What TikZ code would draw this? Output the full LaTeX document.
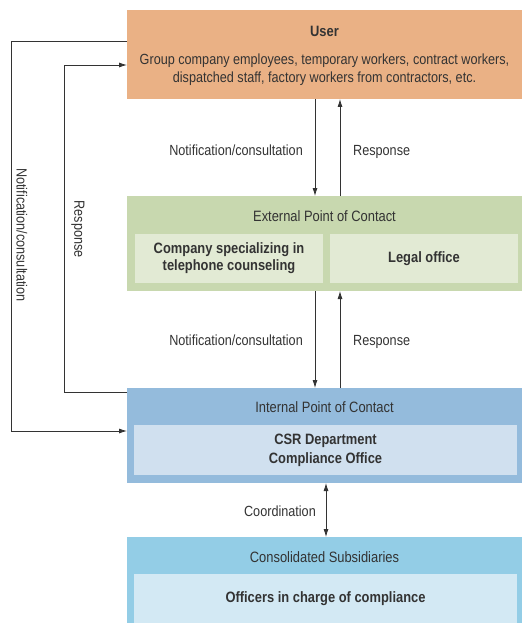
\documentclass[tikz,border=0pt]{standalone}
\usepackage{fontspec}
\setmainfont{Liberation Sans}[FakeStretch=0.86]
\usetikzlibrary{arrows.meta}
\definecolor{ink}{HTML}{333333}
\definecolor{userfill}{HTML}{EAB185}
\definecolor{extfill}{HTML}{C8D8AF}
\definecolor{extinner}{HTML}{E2EAD4}
\definecolor{intfill}{HTML}{94BBDC}
\definecolor{intinner}{HTML}{D0E0EF}
\definecolor{subfill}{HTML}{93CDE6}
\definecolor{subinner}{HTML}{D3E9F4}
\tikzset{
  outerbox/.style={anchor=north west,minimum width=395pt,inner sep=0pt,outer sep=0pt},
  innerbox/.style={anchor=north west,inner sep=0pt,outer sep=0pt,text=ink,
    font=\fontsize{15}{17}\selectfont\bfseries,align=center},
  title/.style={text=ink,font=\fontsize{15}{18}\selectfont,inner sep=0pt},
  lab/.style={text=ink,font=\fontsize{14.7}{17}\selectfont,inner sep=0pt},
  arr/.style={draw=ink,line width=0.8pt,-{Latex[length=8pt,width=5pt]}},
}
\begin{document}
\begin{tikzpicture}[x=1pt,y=1pt]
\useasboundingbox (0,0) rectangle (522,-623);
% boxes
\node[outerbox,fill=userfill,minimum height=89pt] (user) at (127,-10) {};
\node[title,font=\fontsize{15}{18}\selectfont\bfseries] (usertitle) at (324.5,-31) {User};
\node[title,align=center,font=\fontsize{14.7}{18.5}\selectfont] (usertext) at (324.5,-69.5)
  {Group company employees, temporary workers, contract workers,\\dispatched staff, factory workers from contractors, etc.};

\node[outerbox,fill=extfill,minimum height=95pt] (ext) at (127,-196) {};
\node[title] (exttitle) at (324.5,-216) {External Point of Contact};
\node[innerbox,fill=extinner,minimum width=188pt,minimum height=49pt] (phone) at (135,-234)
  {Company specializing in\\telephone counseling};
\node[innerbox,fill=extinner,minimum width=188pt,minimum height=49pt] (legal) at (330,-234)
  {Legal office};

\node[outerbox,fill=intfill,minimum height=95pt] (intl) at (127,-388) {};
\node[title] (inttitle) at (324.5,-407) {Internal Point of Contact};
\node[innerbox,fill=intinner,minimum width=383pt,minimum height=50pt,
  font=\fontsize{15}{19}\selectfont\bfseries] (csr) at (134,-425)
  {CSR Department\\Compliance Office};

\node[outerbox,fill=subfill,minimum height=86pt] (subs) at (127,-537) {};
\node[title] (subtitle) at (324.5,-557) {Consolidated Subsidiaries};
\node[innerbox,fill=subinner,minimum width=383pt,minimum height=49pt] (officers) at (134,-574)
  {Officers in charge of compliance};

% vertical connectors
\draw[arr] ([xshift=-9.5pt]user.south) -- ([xshift=-9.5pt]ext.north);
\draw[arr] ([xshift=15.5pt]ext.north) -- ([xshift=15.5pt]user.south);
\draw[arr] ([xshift=-9.5pt]ext.south) -- ([xshift=-9.5pt]intl.north);
\draw[arr] ([xshift=15.5pt]intl.north) -- ([xshift=15.5pt]ext.south);
\draw[arr,{Latex[length=8pt,width=5pt]}-{Latex[length=8pt,width=5pt]}] ([xshift=1.5pt]intl.south) -- ([xshift=1.5pt]subs.north);

\node[lab,anchor=base east] (n1) at (303,-155.5) {Notification/consultation};
\node[lab,anchor=base west] (r1) at (353,-155.5) {Response};
\node[lab,anchor=base east] (n2) at (303,-345.5) {Notification/consultation};
\node[lab,anchor=base west] (r2) at (353,-345.5) {Response};
\node[lab,anchor=base east] (co) at (316,-516.5) {Coordination};

% side loops
\draw[arr] ([yshift=-31pt]user.north west) -- ++(-116,0) |- ([yshift=-43pt]intl.north west);
\draw[arr] ([yshift=-4pt]intl.north west) -- ++(-63,0) |- ([yshift=-55pt]user.north west);
\node[lab,rotate=-90] (n3) at (22,-235) {Notification/consultation};
\node[lab,rotate=-90] (r3) at (78,-229) {Response};
\end{tikzpicture}
\end{document}
